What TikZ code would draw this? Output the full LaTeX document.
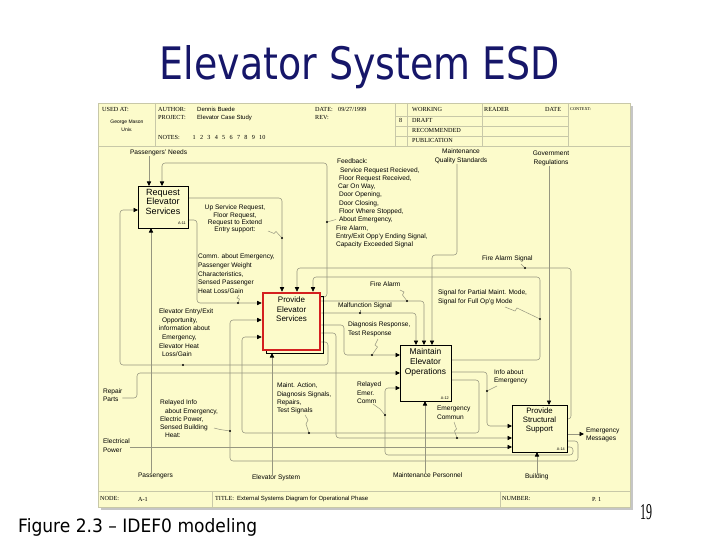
\documentclass[tikz,border=0pt]{standalone}
\usepackage{graphicx}
\usepackage{fontspec}
\setmainfont{Liberation Sans}
\newfontfamily\hdrserif{Liberation Serif}
\newfontfamily\ttlfont{DejaVu Sans}
\usetikzlibrary{arrows.meta}
\definecolor{formbg}{HTML}{FCFBCB}
\definecolor{gridc}{RGB}{200,200,168}
\definecolor{lc}{RGB}{150,150,128}
\definecolor{navy}{RGB}{22,22,105}
\definecolor{boxred}{RGB}{212,32,32}
\begin{document}
\begin{tikzpicture}[x=1pt,y=-1pt,
  txt/.style={inner sep=0pt,outer sep=0pt,anchor=north west,align=left,font=\fontsize{6.6}{8.4}\selectfont},
  ctxt/.style={inner sep=0pt,outer sep=0pt,anchor=north,align=center,font=\fontsize{6.6}{8.8}\selectfont},
  box/.style={draw=black,line width=0.8pt,fill=formbg,inner sep=0pt,outer sep=0pt},
  boxlbl/.style={inner sep=0pt,anchor=north,align=center,font=\fontsize{9}{9.6}\selectfont},
  alab/.style={inner sep=0pt,anchor=base east,font=\fontsize{3.8}{4}\selectfont},
  conn/.style={draw=lc,line width=0.55pt,rounded corners=3pt},
  arr/.style={-{Triangle[length=4.5pt,width=4.2pt,color=black]}},
  dotn/.style={circle,fill=black,inner sep=0pt,minimum size=2.2pt},
  sq/.style={draw=lc,line width=0.5pt},
  grid/.style={draw=gridc,line width=0.6pt},
  hdr/.style={inner sep=0pt,anchor=base west,font=\hdrserif\fontsize{6.2}{7}\selectfont},
  hval/.style={inner sep=0pt,anchor=base west,font=\fontsize{6}{7}\selectfont}]
\useasboundingbox (0,0) rectangle (720,540);
\fill[white] (0,0) rectangle (720,540);

% ---- page texts
\node[anchor=base,inner sep=0pt,font=\ttlfont,text=navy] (title) at (360,80) {\resizebox{400pt}{34pt}{Elevator System ESD}};
\node[anchor=base west,inner sep=0pt,font=\ttlfont] (cap) at (18,532) {\resizebox{239pt}{14pt}{Figure 2.3 – IDEF0 modeling}};
\node[anchor=base west,inner sep=0pt,font=\hdrserif] (pnum) at (640,519) {\resizebox{12pt}{15pt}{19}};

% ---- form
\fill[gray!45] (101,106) rectangle (633,510);
\filldraw[fill=formbg,draw=gridc,line width=0.6pt] (98,103) rectangle (630,507);
\draw[grid] (98,146) -- (630,146);
\draw[grid] (155,103) -- (155,146);
\foreach \xx in {395,407,482,568} {\draw[grid] (\xx,103) -- (\xx,146);}
\foreach \yy in {116,126,136} {\draw[grid] (395,\yy) -- (568,\yy);}
\draw[grid] (98,491) -- (630,491);
\draw[grid] (212,491) -- (212,507);
\draw[grid] (500,491) -- (500,507);

% header texts
\node[hdr] (usedat) at (102,112) {USED AT:};
\node[inner sep=0pt,align=center,font=\fontsize{5}{7.5}\selectfont] (gmu) at (127,126) {George Mason\\Univ.};
\node[hdr] (author) at (158,112) {AUTHOR:};
\node[hval] (authv) at (197,112) {Dennis Buede};
\node[hdr] (project) at (158,120) {PROJECT:};
\node[hval] (projv) at (197,120) {Elevator Case Study};
\node[hdr] (notes) at (158,140) {NOTES:};
\foreach \i in {1,...,10} {\node[hdr] at ({185+7.4*\i},140) {\i};}
\node[hdr] (date) at (315,112) {DATE:};
\node[hdr] (datev) at (338,112) {09/27/1999};
\node[hdr] (rev) at (315,120) {REV:};
\node[hdr] (eight) at (399,123) {8};
\node[hdr] (working) at (412,112) {WORKING};
\node[hdr] (draft) at (412,123) {DRAFT};
\node[hdr] (recom) at (412,133) {RECOMMENDED};
\node[hdr] (publ) at (412,143) {PUBLICATION};
\node[hdr] (reader) at (484,112) {READER};
\node[hdr] (date2) at (545,112) {DATE};
\node[hdr,font=\hdrserif\fontsize{4.3}{5}\selectfont] (context) at (570,111) {CONTEXT:};
% footer texts
\node[hdr] (nodel) at (100,500) {NODE:};
\node[hdr] (nodev) at (138,501) {A-1};
\node[hdr] (titlel) at (215,500) {TITLE:};
\node[hval] (titlev) at (237,500) {External Systems Diagram for Operational Phase};
\node[hdr] (numl) at (502,500) {NUMBER:};
\node[hdr] (numv) at (592,501) {P. 1};

% ---- labels
\node[txt] (pneeds) at (130,150) {Passengers' Needs};
\node[ctxt] (mqs) at (461,149) {Maintenance\\Quality Standards};
\node[ctxt] (govreg) at (551,151) {Government\\Regulations};
\node[txt,font=\fontsize{6.6}{8.3}\selectfont] (fback) at (336,159) {\hspace*{1pt}Feedback:\\
\hspace*{4pt}Service Request Recieved,\\
\hspace*{3pt}Floor Request Received,\\
\hspace*{2pt}Car On Way,\\
\hspace*{3pt}Door Opening,\\
\hspace*{3pt}Door Closing,\\
\hspace*{3pt}Floor Where Stopped,\\
\hspace*{3pt}About Emergency,\\
Fire Alarm,\\
Entry/Exit Opp'y Ending Signal,\\
Capacity Exceeded Signal};
\node[ctxt,font=\fontsize{6.6}{7.4}\selectfont] (upsr) at (235,205) {Up Service Request,\\Floor Request,\\Request to Extend\\Entry support:};
\node[txt,font=\fontsize{6.6}{8.7}\selectfont] (commem) at (198,254) {Comm. about Emergency,\\Passenger Weight\\Characteristics,\\Sensed Passenger\\Heat Loss/Gain};
\node[txt,font=\fontsize{6.6}{8.6}\selectfont] (entry) at (159,309) {Elevator Entry/Exit\\\hspace*{3pt}Opportunity,\\information about\\\hspace*{3pt}Emergency,\\Elevator Heat\\\hspace*{3pt}Loss/Gain};
\node[txt] (firea) at (370,282) {Fire Alarm};
\node[txt] (fasig) at (482,256) {Fire Alarm Signal};
\node[txt,font=\fontsize{6.6}{9}\selectfont] (sigpm) at (438,290) {Signal for Partial Maint. Mode,\\Signal for Full Op'g Mode};
\node[txt] (malf) at (338,303) {Malfunction Signal};
\node[txt,font=\fontsize{6.6}{9}\selectfont] (diag) at (348,322) {Diagnosis Response,\\Test Response};
\node[txt,font=\fontsize{6.6}{8.5}\selectfont] (relemer) at (357,382) {Relayed\\Emer.\\Comm};
\node[txt,font=\fontsize{6.6}{8.3}\selectfont] (maint) at (277,383) {Maint. Action,\\Diagnosis Signals,\\Repairs,\\Test Signals};
\node[txt,font=\fontsize{6.6}{9}\selectfont] (emcom) at (437,406) {Emergency\\Commun};
\node[txt,font=\fontsize{6.6}{8}\selectfont] (infoem) at (494,370) {Info about\\Emergency};
\node[txt,font=\fontsize{6.6}{8.3}\selectfont] (relinfo) at (160,400) {Relayed Info\\\hspace*{5pt}about Emergency,\\Electric Power,\\Sensed Building\\\hspace*{5pt}Heat:};
\node[txt,font=\fontsize{6.6}{8}\selectfont] (emsg) at (586,428) {Emergency\\Messages};
\node[txt,font=\fontsize{6.6}{8}\selectfont] (repair) at (103,389) {Repair\\Parts};
\node[txt,font=\fontsize{6.6}{9}\selectfont] (power) at (103,439) {Electrical\\Power};
\node[txt] (pass) at (138,473) {Passengers};
\node[txt] (elsys) at (252,475) {Elevator System};
\node[txt] (mpers) at (393,473) {Maintenance Personnel};
\node[txt] (bldg) at (525,474) {Building};

% ---- boxes (placed first so connectors can use their anchors)
\node[box,minimum width=50pt,minimum height=42pt] (res) at (163,207) {};
\node[box,minimum width=51pt,minimum height=56pt] (meo) at (425.5,373) {};
\node[box,minimum width=55pt,minimum height=47pt] (pss) at (539.5,428.5) {};
\node[draw=black,line width=0.9pt,inner sep=0pt,outer sep=0pt,minimum width=57pt,minimum height=57pt] (pesb) at (294.5,324.5) {};
\node[draw=boxred,line width=2.6pt,fill=formbg,inner sep=0pt,outer sep=1.3pt,minimum width=57pt,minimum height=57pt] (pes) at (291.5,321.5) {};

% ---- connectors
\draw[conn,arr] (pneeds.south -| 149,0) -- (res.north -| 149,0);
\draw[conn,arr] (pes.east |- 0,297) -| (327,163) -| (res.north -| 162,0);
\draw[conn,arr] (res.east |- 0,198) -| (pes.north -| 282,0);
\draw[conn,arr] (res.east |- 0,220) -| (197,303) -- (pes.west |- 0,303);
\draw[conn,arr] (pss.east |- 0,419) -| (571,268) -| (pes.north -| 297,0);
\draw[conn,arr] (meo.east |- 0,360) -| (540,277) -| (pes.north -| 313,0);
\draw[conn,arr] (mqs.south -| 457,0) |- (432,255) -- (meo.north -| 432,0);
\draw[conn,arr] (pes.east |- 0,301) -| (meo.north -| 424,0);
\draw[conn,arr] (pes.east |- 0,313) -| (meo.north -| 416,0);
\draw[conn,arr] (pes.east |- 0,325) -| (344,355) -- (meo.west |- 0,355);
\draw[conn,arr] (pes.east |- 0,333) -| (336,438) -- (pss.west |- 0,438);
\draw[conn,arr] (pes.east |- 0,342) -| (328,365) -| (120,210) -- (res.west |- 0,210);
\draw[conn,arr] (repair.east |- 0,398) -| (137,373) -- (meo.west |- 0,373);
\draw[conn,arr] (pss.east |- 0,447) -| (573,455) -| (385,388) -- (meo.west |- 0,388);
\draw[conn,arr] (pss.east |- 0,441) -| (578,461) -| (230,320) -- (pes.west |- 0,320);
\draw[conn,arr] (meo.east |- 0,372) -| (487,426) -- (pss.west |- 0,426);
\draw[conn,arr] (meo.east |- 0,380) -| (479,433) -| (242,337) -- (pes.west |- 0,337);
\draw[conn,arr] (power.east |- 0,447) -- (pss.west |- 0,447);
\draw[conn,arr] (govreg.south -| 549,0) -- (pss.north -| 549,0);
\draw[conn,arr,shorten >=2pt] (pss.east |- 0,434) -- (emsg.west |- 0,434);
\draw[conn,arr] (pass.north -| 151,0) -- (res.south -| 151,0);
\draw[conn,arr] (elsys.north -| 272,0) -- (pesb.south -| 272,0);
\draw[conn,arr] (mpers.north -| 425,0) -- (meo.south -| 425,0);
\draw[conn,arr] (bldg.north -| 537,0) -- (pss.south -| 537,0);

% redraw boxes on top of lines
\node[box,minimum width=50pt,minimum height=42pt] (res2) at (res) {};
\node[box,minimum width=51pt,minimum height=56pt] (meo2) at (meo) {};
\node[box,minimum width=55pt,minimum height=47pt] (pss2) at (pss) {};
\node[draw=black,line width=0.9pt,inner sep=0pt,outer sep=0pt,minimum width=57pt,minimum height=57pt] (pesb2) at (pesb) {};
\node[draw=boxred,line width=2.6pt,fill=formbg,inner sep=0pt,minimum width=57pt,minimum height=57pt] (pes2) at (pes) {};

\node[boxlbl] (rest) at (163,189) {Request\\Elevator\\Services};
\node[boxlbl,font=\fontsize{8}{9.5}\selectfont] (pest) at (291.5,297) {Provide\\Elevator\\Services};
\node[boxlbl,font=\fontsize{8.4}{10}\selectfont] (meot) at (425.5,348) {Maintain\\Elevator\\Operations};
\node[boxlbl,font=\fontsize{7.8}{8.6}\selectfont] (psst) at (539.5,408) {Provide\\Structural\\Support};
\node[alab] (a11) at (186,225) {A-11};
\node[alab] (a12) at (449,399) {A-12};
\node[alab] (a14) at (565,450) {A-14};

% ---- dots and squiggles
\node[dotn] (dfb) at (327,222) {};
\node[dotn] (dup) at (282,238) {};
\node[dotn] (dcomm) at (238,303) {};
\node[dotn] (dee) at (183,365) {};
\node[dotn] (dfa) at (407,301) {};
\node[dotn] (dfas) at (525,268) {};
\node[dotn] (dsig) at (540,319) {};
\node[dotn] (dmal) at (360,313) {};
\node[dotn] (ddiag) at (372,355) {};
\node[dotn] (drec) at (385,415) {};
\node[dotn] (dec) at (457,438) {};
\node[dotn] (dinfo) at (487,391) {};
\node[dotn] (dma) at (309,433) {};
\node[dotn] (dri) at (230,431) {};
\draw[sq] (336,219.5) -- (dfb);
\draw[sq] (268,231) -- (274,233.5) -- (276,231.5) -- (dup);
\draw[sq] (239,295) -- (237,298) -- (239.5,299) -- (dcomm);
\draw[sq] (400,290) -- (404,292) -- (402.5,295) -- (dfa);
\draw[sq] (521,264) -- (dfas);
\draw[sq] (505,307) -- (515,311) -- (517,308) -- (dsig);
\draw[sq] (360,310) -- (dmal);
\draw[sq] (378,339) -- (375,345) -- (377.5,347) -- (ddiag);
\draw[sq] (373,404) -- (380,409) -- (drec);
\draw[sq] (454,422) -- (456.5,429) -- (454.5,431) -- (dec);
\draw[sq] (497,386) -- (dinfo);
\draw[sq] (305,415) -- (308,420) -- (306,424) -- (dma);
\draw[sq] (214,428) -- (220,429.5) -- (dri);
\end{tikzpicture}
\end{document}
